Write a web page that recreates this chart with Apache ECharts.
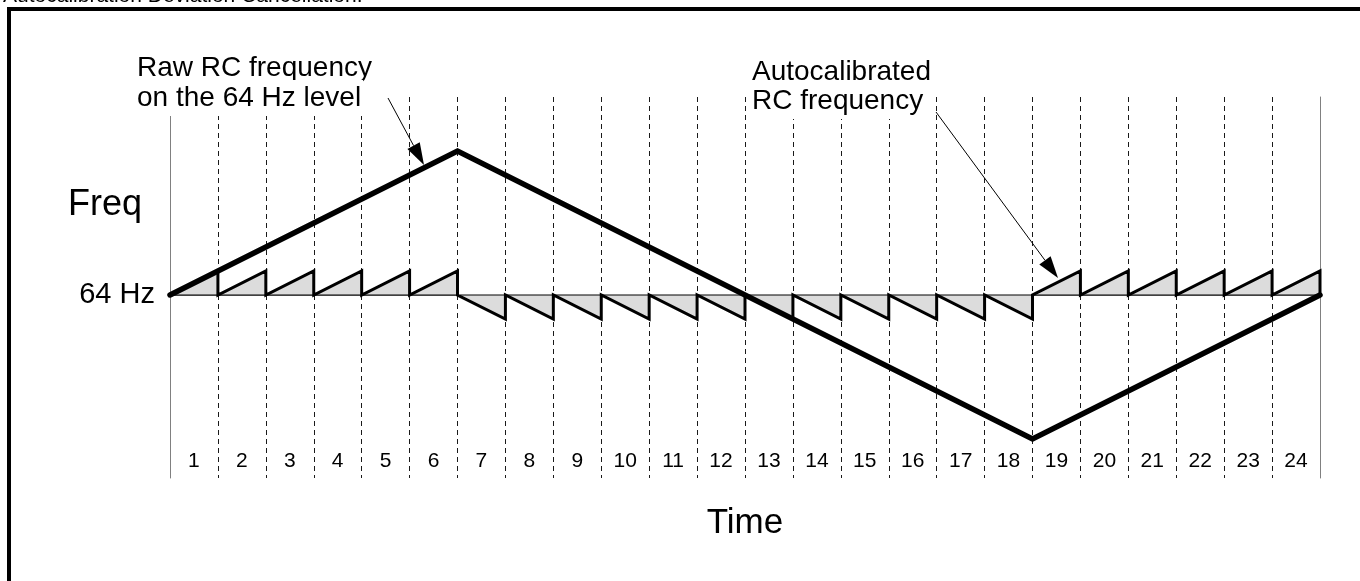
<!DOCTYPE html>
<html>
<head>
<meta charset="utf-8">
<script src="https://cdn.jsdelivr.net/npm/echarts@6/dist/echarts.min.js"></script>
<style>
html,body{margin:0;padding:0;background:#fff;}
#chart{width:1360px;height:581px;}
</style>
</head>
<body>
<div id="chart"></div>
<script>
// ---- data ----
const periodLabels = ['1','2','3','4','5','6','7','8','9','10','11','12','13','14','15','16','17','18','19','20','21','22','23','24'];
// raw RC frequency deviation (in units of one period's drift), at period boundaries
const rawTimes  = [0, 6, 18, 24];
const rawValues = [0, 6, -6, 0];
// autocalibrated deviation reached at the end of each period (reset to 0 at each boundary)
const autoPeaks = [1, 1, 1, 1, 1, 1, -1, -1, -1, -1, -1, -1, -1, -1, -1, -1, -1, -1, 1, 1, 1, 1, 1, 1];
const yMin = -7.625, yMax = 8.25;
const levelValue = 0; // the 64 Hz level

// ---- build series points ----
const rawData = rawTimes.map((t, i) => [t, rawValues[i]]);
const autoData = [];
autoPeaks.forEach((p, i) => { autoData.push([i, levelValue]); autoData.push([i + 1, p]); });
autoData.push([autoPeaks.length, levelValue]);
const baseData = [[0, levelValue], [periodLabels.length, levelValue]];

const FONT = 'Arial, "Liberation Sans", sans-serif';

function arrow(x1, y1, x2, y2, len, half) {
  const dx = x2 - x1, dy = y2 - y1, L = Math.hypot(dx, dy);
  const ux = dx / L, uy = dy / L, px = -uy, py = ux;
  const bx = x2 - ux * len, by = y2 - uy * len;
  return [
    { type: 'line', z: 20, shape: { x1: x1, y1: y1, x2: bx, y2: by }, style: { stroke: '#000', lineWidth: 1 }, silent: true },
    { type: 'polygon', z: 20, shape: { points: [[x2, y2], [bx + px * half, by + py * half], [bx - px * half, by - py * half]] }, style: { fill: '#000' }, silent: true }
  ];
}
function label(x, y, text, size) {
  return { type: 'text', z: 10, x: x, y: y, style: { text: text, font: size + 'px ' + FONT, fill: '#000', verticalAlign: 'middle', align: 'left', backgroundColor: '#fff', padding: [0, 2, 8, 2] }, silent: true };
}

const chart = echarts.init(document.getElementById('chart'), null, { renderer: 'canvas' });
chart.setOption({
  animation: false,
  backgroundColor: '#fff',
  textStyle: { fontFamily: FONT },
  grid: { left: 170, right: 40, top: 97, bottom: 103 },
  xAxis: [
    {
      type: 'value', min: 0, max: 24, interval: 1,
      name: 'Time', nameLocation: 'middle', nameGap: 28,
      nameTextStyle: { fontSize: 35, color: '#000', fontFamily: FONT },
      axisLine: { show: true, lineStyle: { color: '#808080', width: 1 } },
      axisTick: { show: false }, axisLabel: { show: false },
      splitLine: { show: true, showMinLine: false, showMaxLine: false, lineStyle: { color: '#1a1a1a', type: [5, 4], width: 1 } }
    },
    {
      type: 'category', data: periodLabels, position: 'bottom', boundaryGap: true,
      axisLine: { show: false }, axisTick: { show: false }, splitLine: { show: false },
      axisLabel: { inside: true, margin: 6, fontSize: 21, color: '#000', fontFamily: FONT }
    }
  ],
  yAxis: [
    {
      type: 'value', min: yMin, max: yMax, position: 'left',
      axisLine: { show: true, lineStyle: { color: '#808080', width: 1 } },
      axisTick: { show: false }, splitLine: { show: false },
      axisLabel: { show: true, customValues: [levelValue], formatter: () => '64 Hz', margin: 15, fontSize: 29, color: '#000', fontFamily: FONT }
    },
    {
      type: 'value', min: yMin, max: yMax, position: 'right',
      axisLine: { show: true, lineStyle: { color: '#808080', width: 1 } },
      axisTick: { show: false }, splitLine: { show: false }, axisLabel: { show: false }
    }
  ],
  series: [
    {
      type: 'line', name: 'Autocalibrated RC frequency', data: autoData, xAxisIndex: 0, yAxisIndex: 0,
      showSymbol: false, symbol: 'none',
      lineStyle: { color: '#000', width: 3, join: 'miter' },
      areaStyle: { color: '#dcdcdc', opacity: 1, origin: 0 }, z: 2
    },
    {
      type: 'line', name: '64 Hz level', data: baseData, xAxisIndex: 0, yAxisIndex: 0,
      showSymbol: false, symbol: 'none', lineStyle: { color: '#000', width: 1 }, z: 3
    },
    {
      type: 'line', name: 'Raw RC frequency', data: rawData, xAxisIndex: 0, yAxisIndex: 0,
      showSymbol: false, symbol: 'none', lineStyle: { color: '#000', width: 5.5, cap: 'round', join: 'miter' }, z: 4
    }
  ],
  graphic: [
    { type: 'rect', shape: { x: 9, y: 9, width: 2000, height: 2000 }, style: { fill: 'none', stroke: '#000', lineWidth: 4 }, silent: true },
    { type: 'text', x: 3, y: -4, style: { text: 'Autocalibration Deviation Cancellation:', font: '21px ' + FONT, fill: '#000', verticalAlign: 'middle', align: 'left' } },
    { type: 'text', x: 68, y: 205, style: { text: 'Freq', font: '36px ' + FONT, fill: '#000', verticalAlign: 'middle', align: 'left' } },
    label(135, 68, 'Raw RC frequency', 28),
    label(135, 98, 'on the 64 Hz level', 28),
    label(750, 72, 'Autocalibrated', 28),
    label(750, 101, 'RC frequency', 28)
  ].concat(arrow(388, 98, 424, 165, 22, 7)).concat(arrow(936, 112, 1058, 278, 22, 7))
});
</script>
</body>
</html>
